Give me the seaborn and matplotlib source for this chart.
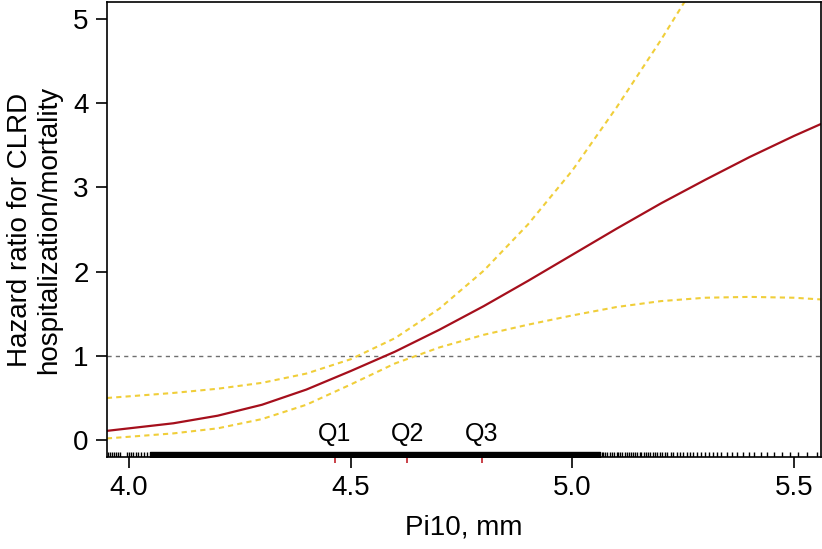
import numpy as np
import pandas as pd
import seaborn as sns
import matplotlib.pyplot as plt
from matplotlib.ticker import FixedLocator

# Pi10 grid and estimated hazard ratio with 95% CI
pi10 = [3.95, 4.0, 4.1, 4.2, 4.3, 4.4, 4.5, 4.6, 4.7, 4.8, 4.9, 5.0,
        5.1, 5.2, 5.3, 5.4, 5.5, 5.56]
hr = [0.11, 0.14, 0.20, 0.29, 0.42, 0.60, 0.82, 1.05, 1.31, 1.59, 1.89, 2.20,
      2.51, 2.81, 3.09, 3.36, 3.61, 3.75]
hr_upper = [0.50, 0.52, 0.56, 0.61, 0.68, 0.79, 0.96, 1.21, 1.56, 2.01, 2.56, 3.20,
            3.95, 4.75, 5.60, 6.50, 7.40, 8.00]
hr_lower = [0.02, 0.04, 0.08, 0.14, 0.25, 0.42, 0.66, 0.91, 1.10, 1.25, 1.37, 1.48,
            1.58, 1.65, 1.69, 1.70, 1.69, 1.67]

# quartiles of Pi10
q_names = ["Q1", "Q2", "Q3"]
q_values = [4.464, 4.628, 4.796]

# observations (rug): dense core plus sparse tails
rug_dense = (4.047, 5.062)
rug_tails = [3.952, 3.957, 3.962, 3.966, 3.971, 3.975, 3.980, 3.995, 4.000, 4.004,
             4.009, 4.015, 4.021, 4.028, 4.034, 4.040,
             5.066, 5.070, 5.074, 5.079, 5.084, 5.090, 5.094, 5.100, 5.104, 5.108,
             5.113, 5.118, 5.123, 5.128, 5.133, 5.137, 5.142, 5.147, 5.152, 5.156,
             5.161, 5.166, 5.170, 5.176, 5.181, 5.186, 5.192, 5.197, 5.203, 5.208,
             5.214, 5.222, 5.228, 5.236, 5.242, 5.250, 5.258, 5.266, 5.272, 5.282,
             5.290, 5.300, 5.308, 5.318, 5.326, 5.336, 5.348, 5.360, 5.371, 5.384,
             5.398, 5.410, 5.425, 5.440, 5.455, 5.472, 5.490, 5.510, 5.530, 5.552]

sns.set_style("ticks")
plt.rcParams['font.family'] = ['Liberation Sans', 'DejaVu Sans']
plt.rcParams['text.color'] = 'black'
plt.rcParams['axes.labelcolor'] = 'black'

Curve_Data = pd.DataFrame({"pi10": pi10, "hr": hr, "upper": hr_upper, "lower": hr_lower})

fig = plt.figure(figsize=(8.22, 5.49), dpi=100)
ax = fig.add_axes([0.130, 0.1676, 0.8688, 0.8288])

ax.axhline(1, color="#6f6f6f", lw=1.0, ls=(0, (3, 3)), zorder=1)
sns.lineplot(data=Curve_Data, x="pi10", y="upper", ax=ax, color="#F0CE3A",
             lw=1.5, ls=(0, (2.5, 2)))
sns.lineplot(data=Curve_Data, x="pi10", y="lower", ax=ax, color="#F0CE3A",
             lw=1.5, ls=(0, (2.5, 2)))
sns.lineplot(data=Curve_Data, x="pi10", y="hr", ax=ax, color="#A50F1C", lw=1.6)

# rug
sns.rugplot(x=rug_tails, ax=ax, height=0.012, color="black", lw=0.8)
ax.broken_barh([(rug_dense[0], rug_dense[1] - rug_dense[0])], (0, 0.012),
               transform=ax.get_xaxis_transform(), color="black")

for name, q in zip(q_names, q_values):
    ax.text(q, -0.07, name, ha="center", va="bottom", fontsize=18, color="black")

ax.set_xlim(3.95, 5.561)
ax.set_ylim(-0.2, 5.2)
ax.set_xticks([4.0, 4.5, 5.0, 5.5])
ax.set_xticklabels(["4.0", "4.5", "5.0", "5.5"])
ax.set_yticks([0, 1, 2, 3, 4, 5])
ax.xaxis.set_minor_locator(FixedLocator(q_values))
ax.tick_params(axis="x", which="minor", length=4, width=1.2, color="#C0202A")
ax.tick_params(axis="both", which="major", length=8, width=1.2, labelsize=20, pad=5,
               colors="black")
for side in ["left", "bottom", "top", "right"]:
    ax.spines[side].set_visible(True)
    ax.spines[side].set_linewidth(1.2)
    ax.spines[side].set_color("black")

ax.set_xlabel("Pi10, mm", fontsize=20, labelpad=10, color="black")
ax.set_ylabel("Hazard ratio for CLRD\nhospitalization/mortality", fontsize=20,
              labelpad=8, linespacing=1.15, color="black")

fig.savefig("out.png", dpi=100)
